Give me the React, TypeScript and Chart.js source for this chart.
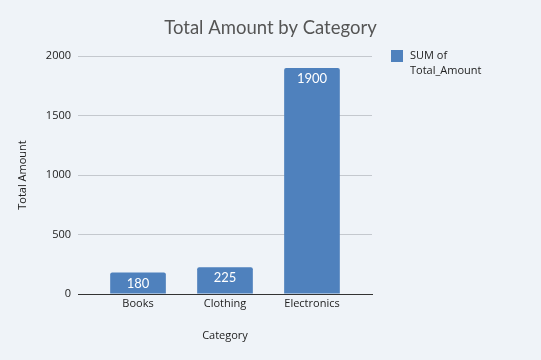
import React, { useEffect, useRef } from "react";
import { Chart, registerables } from "chart.js";

Chart.register(...registerables);

const categories = ["Books", "Clothing", "Electronics"];
const totals = [180, 225, 1900];
const seriesLabel = ["SUM of", "Total_Amount"];
const yTicks = [0, 500, 1000, 1500, 2000];
const chartTitle = "Total Amount by Category";

const FONT = "'Open Sans', Lato, sans-serif";
const TITLE_FONT = "Lato, 'Open Sans', sans-serif";
const BAR = "#4F81BD";

const valueLabels = {
  id: "valueLabels",
  afterDatasetsDraw(chart: any) {
    const ctx = chart.ctx;
    const meta = chart.getDatasetMeta(0);
    ctx.save();
    ctx.fillStyle = "#ffffff";
    ctx.font = `13px ${TITLE_FONT}`;
    ctx.textAlign = "center";
    ctx.textBaseline = "middle";
    meta.data.forEach((bar: any, i: number) => {
      ctx.fillText(String(totals[i]), bar.x, bar.y + 11);
    });
    ctx.restore();
  },
};

const sideDecor = {
  id: "sideDecor",
  afterDraw(chart: any) {
    const ctx = chart.ctx;
    ctx.save();
    ctx.fillStyle = "#555";
    ctx.font = `18.5px ${TITLE_FONT}`;
    ctx.textAlign = "center";
    ctx.textBaseline = "middle";
    ctx.fillText(chartTitle, chart.width / 2, 28);
    const x = chart.chartArea.right + 19;
    const y = chart.chartArea.top - 6;
    ctx.fillStyle = BAR;
    ctx.fillRect(x, y, 12, 12);
    ctx.fillStyle = "#222";
    ctx.font = `11px ${FONT}`;
    ctx.textAlign = "left";
    ctx.textBaseline = "middle";
    seriesLabel.forEach((t, i) => ctx.fillText(t, x + 19, y + 6 + i * 15));
    ctx.restore();
  },
};

export default function App() {
  const ref = useRef<HTMLCanvasElement>(null);
  useEffect(() => {
    document.body.style.margin = "0";
    document.body.style.background = "#EFF3F8";
    const chart = new Chart(ref.current!, {
      type: "bar",
      data: {
        labels: categories,
        datasets: [
          {
            label: seriesLabel.join(" "),
            data: totals,
            backgroundColor: BAR,
            barPercentage: 0.64,
            categoryPercentage: 1,
            borderRadius: { topLeft: 2, topRight: 2, bottomLeft: 0, bottomRight: 0 },
          },
        ],
      },
      options: {
        animation: false,
        responsive: false,
        devicePixelRatio: 1,
        layout: { padding: { left: 0, right: 169, top: 56, bottom: 0 } },
        plugins: {
          legend: { display: false },
          tooltip: { enabled: false },
          title: { display: false },
        },
        scales: {
          x: {
            grid: { display: false, drawTicks: false },
            border: { display: true, color: "#333", width: 1 },
            ticks: { color: "#222", font: { family: FONT, size: 11 }, padding: 3 },
            title: {
              display: true,
              text: "Category",
              color: "#222",
              font: { family: FONT, size: 11 },
              padding: { top: 14, bottom: 18 },
            },
            afterBuildTicks(scale: any) {
              scale._startValue -= 0.19;
              scale._valueRange += 0.38;
            },
            afterFit(scale: any) {
              scale.height = 66;
            },
          },
          y: {
            min: 0,
            max: 2000,
            afterBuildTicks(scale: any) {
              scale.ticks = yTicks.map((v) => ({ value: v }));
            },
            grid: { color: "#C4C8CE", drawTicks: false },
            border: { display: false },
            ticks: {
              color: "#222",
              font: { family: FONT, size: 11 },
              padding: 7,
              callback: (v: any) => String(v),
            },
            title: {
              display: true,
              text: "Total Amount",
              color: "#222",
              font: { family: FONT, size: 11 },
              padding: { top: 16, bottom: 10 },
            },
            afterFit(scale: any) {
              scale.width = 78;
            },
          },
        },
      },
      plugins: [valueLabels, sideDecor],
    });
    return () => chart.destroy();
  }, []);
  return (
    <div style={{ width: 541, height: 360, background: "#EFF3F8" }}>
      <canvas ref={ref} width={541} height={360} style={{ display: "block" }} />
    </div>
  );
}
